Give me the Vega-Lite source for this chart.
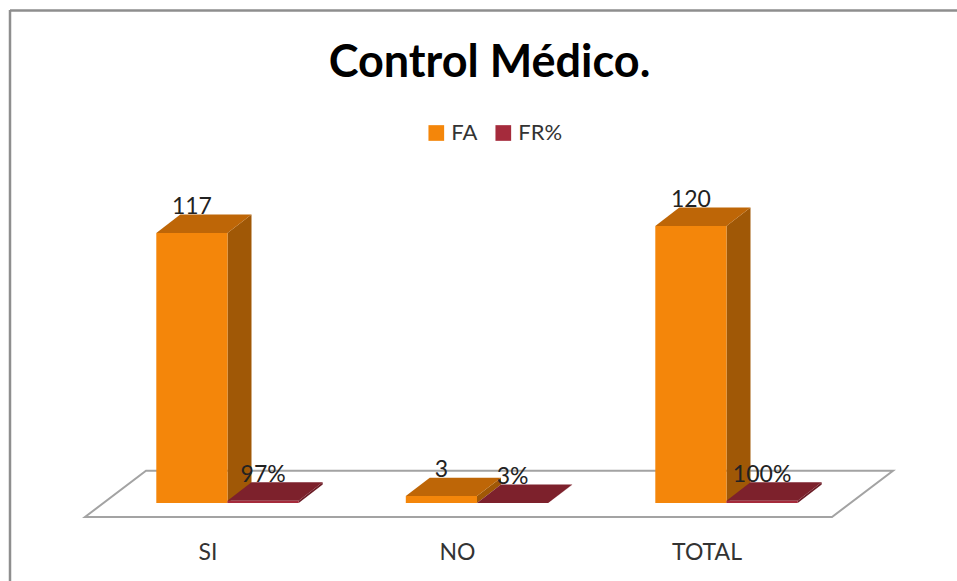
{
"$schema":"https://vega.github.io/schema/vega-lite/v6.json",
"width":947,"height":571,
"padding":{"left":10,"top":10,"right":0,"bottom":0},
"autosize":{"type":"none"},
"background":"white",
"config":{"view":{"stroke":null},"font":"Lato"},
"title":{"text":"Control Médico.","font":"Lato","fontSize":45,"fontWeight":"bold","color":"#000000","anchor":"middle","dx":6,"offset":-113,"baseline":"alphabetic"},
"data":{"values":[
{"categoria":"SI","serie":"FA","valor":117,"etiqueta":"117"},
{"categoria":"SI","serie":"FR%","valor":0.97,"etiqueta":"97%"},
{"categoria":"NO","serie":"FA","valor":3,"etiqueta":"3"},
{"categoria":"NO","serie":"FR%","valor":0.03,"etiqueta":"3%"},
{"categoria":"TOTAL","serie":"FA","valor":120,"etiqueta":"120"},
{"categoria":"TOTAL","serie":"FR%","valor":1,"etiqueta":"100%"}
]},
"layer":[
{"data":{"values":[{}]},"mark":{"type":"rule","color":"#8E8E8E","strokeWidth":2.5},"encoding":{"x":{"value":0}}},
{"data":{"values":[{}]},"mark":{"type":"rule","color":"#8E8E8E","strokeWidth":2.5},"encoding":{"y":{"value":0.5}}},
{"data":{"values":[{"categoria":"NO"}]},
 "mark":{"type":"point","filled":false,"fill":"#FFFFFF","fillOpacity":1,"opacity":1,"stroke":"#A3A3A3","strokeWidth":2,"size":4},
 "encoding":{"x":{"field":"categoria","type":"nominal","sort":["SI","NO","TOTAL"],"scale":{"domain":["SI","NO","TOTAL"],"range":[92.75,841.25],"paddingInner":0,"paddingOuter":0},"axis":{"title":null,"domain":false,"ticks":false,"labelAngle":0,"labelFont":"Lato","labelFontSize":23,"labelColor":"#333333","labelBaseline":"alphabetic","labelPadding":0,"offset":-22,"labelOffset":-19.5,"grid":false}},
  "y":{"datum":0,"type":"quantitative","scale":{"domain":[0,120],"range":[493,216],"nice":false},"axis":null},
  "shape":{"value":"M-392,14 L355,14 L416,-32.3 L-331,-32.3 Z"}}},
{"mark":{"type":"point","filled":true,"opacity":1,"strokeWidth":0,"size":4},
 "encoding":{"x":{"field":"categoria","type":"nominal","sort":["SI","NO","TOTAL"]},
  "xOffset":{"field":"serie","type":"nominal","scale":{"domain":["FA","FR%"],"paddingInner":0,"paddingOuter":0.752}},
  "y":{"field":"valor","type":"quantitative"},
  "color":{"condition":{"test":"datum.serie==='FA'","value":"#A05806"},"value":"#6B1C26"},
  "shape":{"field":"etiqueta","type":"nominal","legend":null,"scale":{"domain":["117","97%","3","3%","120","100%"],"range":[
   "M35.6,0 L59.6,-18.4 L59.6,251.6 L35.6,270 Z",
   "M35.6,0 L59.6,-18.4 L59.6,-16.2 L35.6,2.2 Z",
   "M35.6,0 L59.6,-18.4 L59.6,-11.5 L35.6,6.9 Z",
   "M35.6,0 L59.6,-18.4 L59.6,-18.3 L35.6,0.1 Z",
   "M35.6,0 L59.6,-18.4 L59.6,258.6 L35.6,277 Z",
   "M35.6,0 L59.6,-18.4 L59.6,-16.1 L35.6,2.3 Z"]}}}},
{"mark":{"type":"point","filled":true,"opacity":1,"strokeWidth":0,"size":4},
 "encoding":{"x":{"field":"categoria","type":"nominal","sort":["SI","NO","TOTAL"]},
  "xOffset":{"field":"serie","type":"nominal"},
  "y":{"field":"valor","type":"quantitative"},
  "color":{"condition":{"test":"datum.serie==='FA'","value":"#BE6607"},"value":"#7D212C"},
  "shape":{"value":"M-35.6,0 L35.6,0 L59.6,-18.4 L-11.6,-18.4 Z"}}},
{"mark":{"type":"bar","width":71.2},
 "encoding":{"x":{"field":"categoria","type":"nominal","sort":["SI","NO","TOTAL"]},
  "xOffset":{"field":"serie","type":"nominal"},
  "y":{"field":"valor","type":"quantitative"},
  "color":{"field":"serie","type":"nominal","scale":{"domain":["FA","FR%"],"range":["#F4860A","#A52B3C"]},
   "legend":{"title":null,"orient":"none","direction":"horizontal","legendX":415.3,"legendY":112,"symbolType":"square","symbolSize":246,"symbolStrokeWidth":0,"labelFont":"Lato","labelFontSize":22,"labelColor":"#333333","labelOffset":4,"columnPadding":14}}}},
{"mark":{"type":"text","font":"Lato","fontSize":23,"color":"#222222","baseline":"alphabetic","dy":-19},
 "encoding":{"x":{"field":"categoria","type":"nominal","sort":["SI","NO","TOTAL"]},
  "xOffset":{"field":"serie","type":"nominal"},
  "y":{"field":"valor","type":"quantitative"},
  "text":{"field":"etiqueta","type":"nominal"}}}
]
}
